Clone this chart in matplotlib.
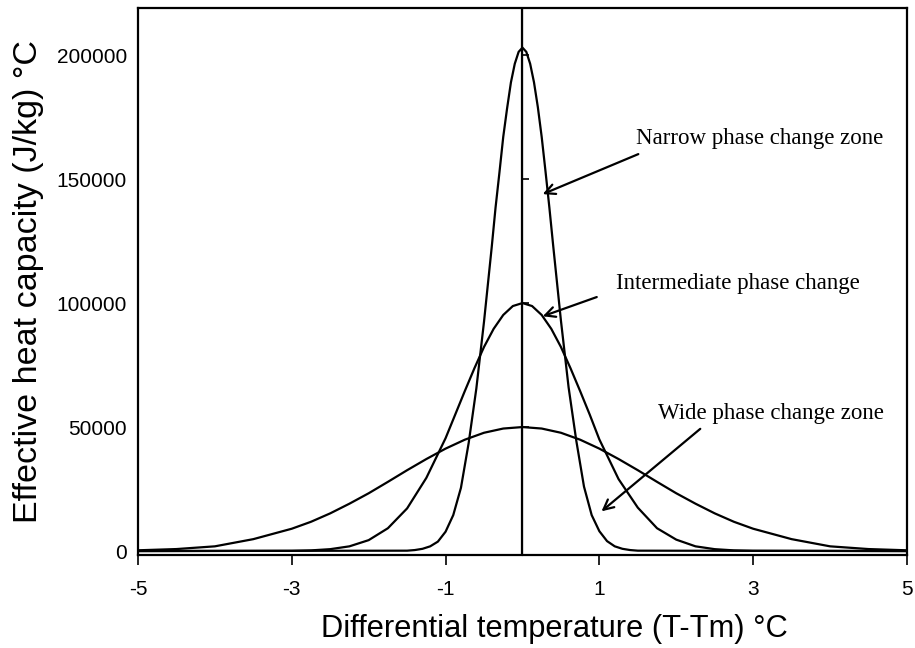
import numpy as np
import matplotlib
matplotlib.use('Agg')
import matplotlib.pyplot as plt

# values
narrow_x = [-5.0, -1.5, -1.4, -1.3, -1.2, -1.1, -1.0, -0.9, -0.8, -0.7, -0.6, -0.5, -0.4, -0.35, -0.3, -0.25,
            -0.2, -0.15, -0.1, -0.05, 0.0, 0.05, 0.1, 0.15, 0.2, 0.25, 0.3, 0.35, 0.4, 0.5, 0.6, 0.7, 0.8,
            0.9, 1.0, 1.1, 1.2, 1.3, 1.4, 1.5, 5.0]
narrow_y = [0, 150, 400, 900, 1900, 3800, 7800, 14500, 25500, 43500, 65500, 92500, 122500, 138500, 152500, 167000,
            178500, 189000, 196500, 201300, 203000, 201300, 196500, 189000, 179000, 167000, 153000, 138500, 123000,
            93000, 66000, 44500, 26000, 14500, 8000, 4000, 1900, 900, 400, 150, 0]

inter_x = [-5.0, -3.0, -2.75, -2.5, -2.25, -2.0, -1.75, -1.5, -1.25, -1.0, -0.875, -0.75, -0.625, -0.5,
           -0.375, -0.25, -0.125, 0.0, 0.125, 0.25, 0.375, 0.5, 0.625, 0.75, 0.875, 1.0, 1.25, 1.5,
           1.75, 2.0, 2.25, 2.5, 2.75, 3.0, 5.0]
inter_y = [0, 90, 270, 760, 1900, 4400, 9200, 17200, 29500, 45500, 55000, 64500, 73700, 82300,
           89600, 95200, 98800, 100000, 98800, 95200, 89600, 82300, 73700, 64500, 55000, 45000, 29000, 17500,
           9200, 4600, 1900, 760, 270, 90, 0]

wide_x = [-5.0, -4.5, -4.0, -3.5, -3.0, -2.75, -2.5, -2.25, -2.0, -1.75, -1.5, -1.25, -1.0, -0.75, -0.5, -0.25,
          0.0, 0.25, 0.5, 0.75, 1.0, 1.25, 1.5, 1.75, 2.0, 2.25, 2.5, 2.75, 3.0, 3.5, 4.0, 4.5, 5.0]
wide_y = [300, 800, 1900, 4800, 9000, 11800, 15200, 19100, 23300, 27900, 32600, 37100, 41300, 44900, 47700, 49400,
          50000, 49400, 47700, 44900, 41300, 37100, 32600, 27900, 23300, 19100, 15200, 11800, 9000, 4800, 1900, 800, 300]

x_ticks = [-5, -3, -1, 1, 3, 5]
y_ticks = [0, 50000, 100000, 150000, 200000]

fig = plt.figure(figsize=(9.15, 6.48), dpi=100)
ax = fig.add_axes([0.1508, 0.1435, 0.8404, 0.8442])

lw = 1.6
ax.plot(narrow_x, narrow_y, color='black', lw=lw)
ax.plot(inter_x, inter_y, color='black', lw=lw)
ax.plot(wide_x, wide_y, color='black', lw=lw)

ax.set_xlim(-5, 5)
ax.set_ylim(-1600, 219000)
ax.set_xticks(x_ticks)
ax.set_xticklabels([str(t) for t in x_ticks])
ax.set_yticks(y_ticks)
ax.set_yticklabels([str(t) for t in y_ticks])

for s in ax.spines.values():
    s.set_linewidth(1.6)
ax.tick_params(axis='x', direction='out', length=7, width=1.2, pad=11)
ax.tick_params(axis='y', length=0, pad=8)
for lab in ax.get_xticklabels() + ax.get_yticklabels():
    lab.set_family('Liberation Sans')
    lab.set_fontsize(15)

# centre line at T = Tm with small ticks
ax.axvline(0, color='black', lw=1.6)
sec = ax.secondary_yaxis(0.5)
sec.set_yticks(y_ticks[1:])
sec.set_yticklabels([])
sec.tick_params(direction='out', length=5, width=1.2)
sec.spines['left'].set_visible(False)

ax.set_xlabel('Differential temperature (T-Tm) °C', family='Liberation Sans', fontsize=22.2)
ax.xaxis.set_label_coords(0.542, -0.135, transform=ax.transAxes)
ax.xaxis.label.set_va('center')
ax.set_ylabel('Effective heat capacity (J/kg) °C', family='Liberation Sans', fontsize=24.5, labelpad=9)

serif = 'Liberation Serif'
ax.text(1.48, 166500, 'Narrow phase change zone', family=serif, fontsize=16.5, va='center')
ax.annotate('', xy=(0.23, 143500), xytext=(1.54, 160500),
            arrowprops=dict(arrowstyle='->', lw=1.6, mutation_scale=18, color='black'))

ax.text(1.22, 107700, 'Intermediate phase change', family=serif, fontsize=16.5, va='center')
ax.annotate('', xy=(0.23, 94300), xytext=(1.0, 102800),
            arrowprops=dict(arrowstyle='->', lw=1.6, mutation_scale=18, color='black'))

ax.text(1.76, 55600, 'Wide phase change zone', family=serif, fontsize=16.5, va='center')
ax.annotate('', xy=(1.0, 15300), xytext=(2.34, 50000),
            arrowprops=dict(arrowstyle='->', lw=1.6, mutation_scale=18, color='black'))

fig.savefig('out.png', dpi=100)
